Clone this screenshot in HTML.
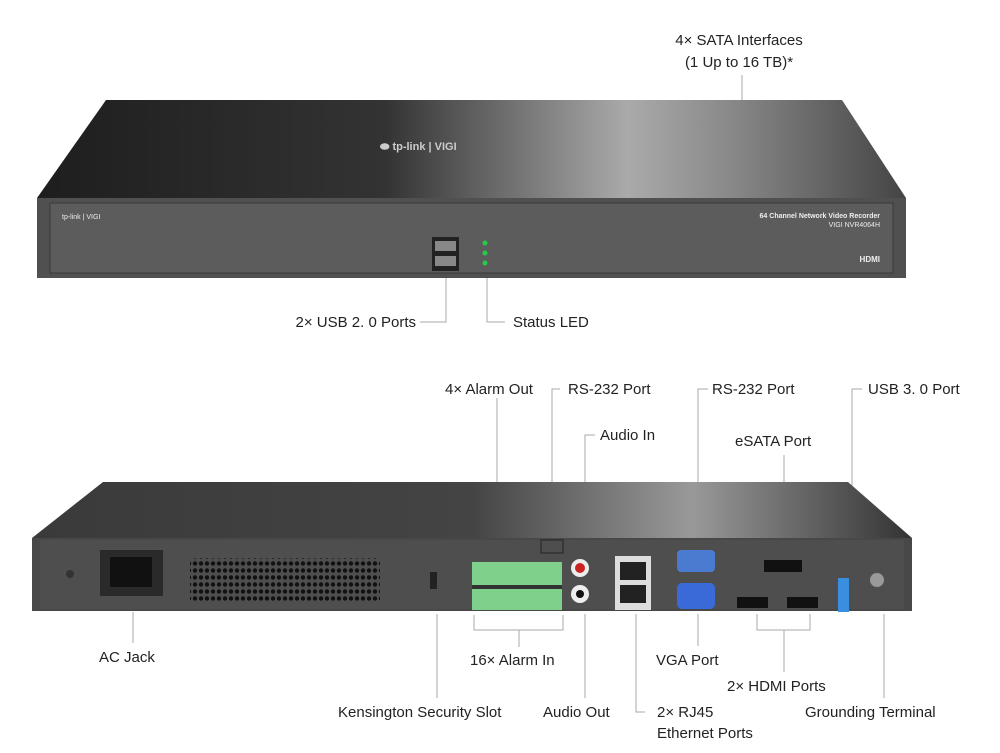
<!DOCTYPE html>
<html><head><meta charset="utf-8"><style>
html,body{margin:0;padding:0;background:#fff}
svg{display:block}
text{font-family:"Liberation Sans",sans-serif;font-size:15px;fill:#222}
.s{font-size:4px;fill:#ddd}
</style></head><body>
<svg width="1000" height="753" viewBox="0 0 1000 753" xmlns="http://www.w3.org/2000/svg">
<defs>
<linearGradient id="t1" x1="0" x2="1" y1="0" y2="0">
<stop offset="0" stop-color="#1e1e1e"/><stop offset="0.4" stop-color="#333"/><stop offset="0.68" stop-color="#aaa"/><stop offset="0.8" stop-color="#888"/><stop offset="1" stop-color="#444"/></linearGradient>
<linearGradient id="t2" x1="0" x2="1" y1="0" y2="0">
<stop offset="0" stop-color="#3a3a3a"/><stop offset="0.5" stop-color="#444"/><stop offset="0.75" stop-color="#999"/><stop offset="1" stop-color="#333"/></linearGradient>
<pattern id="vent" width="6" height="7" patternUnits="userSpaceOnUse"><circle cx="3" cy="3.5" r="2.2" fill="#111"/></pattern>
</defs>
<g stroke="#aaa" stroke-width="1" fill="none">
<line x1="742" y1="75" x2="742" y2="127"/>
<polyline points="446,270 446,322 420,322"/>
<polyline points="487,265 487,322 505,322"/>
<line x1="497" y1="398" x2="497" y2="560"/>
<polyline points="560,389 552,389 552,545"/>
<polyline points="595,435 585,435 585,560"/>
<polyline points="708,389 698,389 698,548"/>
<polyline points="862,389 852,389 852,572"/>
<line x1="784" y1="455" x2="784" y2="556"/>
<line x1="133" y1="612" x2="133" y2="643"/>
<polyline points="474,615 474,630 563,630 563,615"/>
<line x1="519" y1="630" x2="519" y2="647"/>
<line x1="437" y1="614" x2="437" y2="698"/>
<line x1="585" y1="614" x2="585" y2="698"/>
<polyline points="636,614 636,712 645,712"/>
<line x1="698" y1="614" x2="698" y2="646"/>
<polyline points="757,614 757,630 810,630 810,614"/>
<line x1="784" y1="630" x2="784" y2="672"/>
<line x1="884" y1="614" x2="884" y2="698"/>
</g>
<!-- top device -->
<polygon points="106,100 842,100 906,198 37,198" fill="url(#t1)"/>
<rect x="37" y="198" width="869" height="80" fill="#505050"/>
<rect x="50" y="203" width="843" height="70" fill="#5c5c5c" stroke="#3a3a3a"/>
<text x="380" y="150" style="font-size:11px;fill:#ccc;font-weight:bold">⬬ tp-link | VIGI</text>
<text x="62" y="219" style="font-size:7px;fill:#eee">tp-link | VIGI</text>
<text x="880" y="218" text-anchor="end" style="font-size:7px;fill:#eee;font-weight:bold">64 Channel Network Video Recorder</text>
<text x="880" y="227" text-anchor="end" style="font-size:7px;fill:#eee">VIGI NVR4064H</text>
<text x="880" y="262" text-anchor="end" style="font-size:8px;fill:#eee;font-weight:bold">HDMI</text>
<rect x="432" y="237" width="27" height="34" fill="#222"/>
<rect x="435" y="241" width="21" height="10" fill="#888"/><rect x="435" y="256" width="21" height="10" fill="#888"/>
<circle cx="485" cy="243" r="2.5" fill="#2c4"/><circle cx="485" cy="253" r="2.5" fill="#2c4"/><circle cx="485" cy="263" r="2.5" fill="#2c4"/>
<!-- bottom device -->
<polygon points="103,482 848,482 912,538 32,538" fill="url(#t2)"/>
<rect x="32" y="538" width="880" height="73" fill="#484848"/>
<rect x="40" y="540" width="864" height="69" fill="#4e4e4e"/>
<circle cx="70" cy="574" r="4" fill="#333"/>
<rect x="100" y="550" width="63" height="46" fill="#2a2a2a"/><rect x="110" y="557" width="42" height="30" fill="#111"/>
<rect x="190" y="558" width="190" height="43" fill="url(#vent)"/>
<rect x="430" y="572" width="7" height="17" fill="#222"/>
<rect x="472" y="562" width="90" height="48" fill="#7ed08a"/>
<rect x="472" y="585" width="90" height="4" fill="#333"/>
<rect x="541" y="540" width="22" height="13" fill="none" stroke="#222"/>
<circle cx="580" cy="568" r="9" fill="#eee"/><circle cx="580" cy="568" r="5" fill="#c22"/>
<circle cx="580" cy="594" r="9" fill="#eee"/><circle cx="580" cy="594" r="4" fill="#111"/>
<rect x="615" y="556" width="36" height="54" fill="#ddd"/>
<rect x="620" y="562" width="26" height="18" fill="#222"/><rect x="620" y="585" width="26" height="18" fill="#222"/>
<rect x="677" y="550" width="38" height="22" rx="4" fill="#4a7bd0"/>
<rect x="677" y="583" width="38" height="26" rx="5" fill="#3a6ad8"/>
<rect x="764" y="560" width="38" height="12" fill="#111"/>
<rect x="737" y="597" width="31" height="11" fill="#111"/><rect x="787" y="597" width="31" height="11" fill="#111"/>
<rect x="838" y="578" width="11" height="34" fill="#3a8ee0"/>
<circle cx="877" cy="580" r="7" fill="#999"/>
<!-- labels -->
<text x="739" y="45" text-anchor="middle">4× SATA Interfaces</text>
<text x="739" y="67" text-anchor="middle">(1 Up to 16 TB)*</text>
<text x="416" y="327" text-anchor="end">2× USB 2. 0 Ports</text>
<text x="513" y="327">Status LED</text>
<text x="445" y="394">4× Alarm Out</text>
<text x="568" y="394">RS-232 Port</text>
<text x="712" y="394">RS-232 Port</text>
<text x="868" y="394">USB 3. 0 Port</text>
<text x="600" y="440">Audio In</text>
<text x="735" y="446">eSATA Port</text>
<text x="99" y="662">AC Jack</text>
<text x="470" y="665">16× Alarm In</text>
<text x="656" y="665">VGA Port</text>
<text x="727" y="691">2× HDMI Ports</text>
<text x="338" y="717">Kensington Security Slot</text>
<text x="543" y="717">Audio Out</text>
<text x="657" y="717">2× RJ45</text>
<text x="657" y="738">Ethernet Ports</text>
<text x="805" y="717">Grounding Terminal</text>
</svg>
</body></html>
